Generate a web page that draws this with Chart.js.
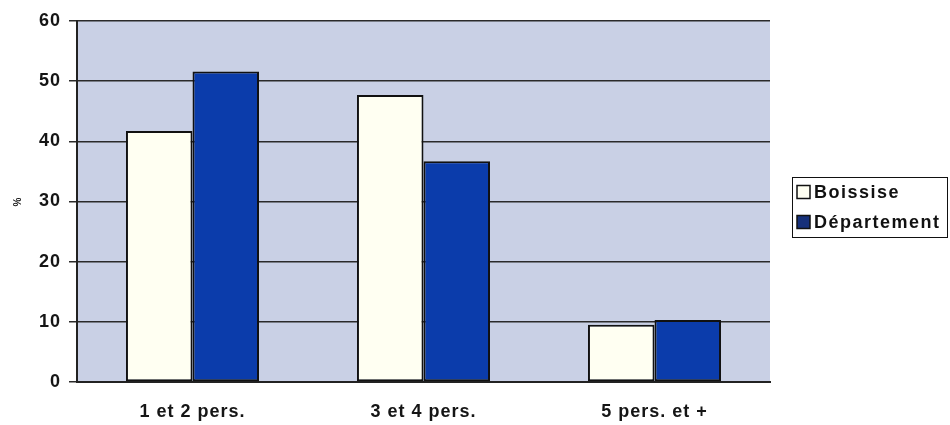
<!DOCTYPE html>
<html>
<head>
<meta charset="utf-8">
<script src="https://cdn.jsdelivr.net/npm/chart.js@4/dist/chart.umd.min.js"></script>
<style>
  html, body { margin: 0; padding: 0; background: #ffffff; }
  #wrap { width: 950px; height: 425px; }
</style>
</head>
<body>
<div id="wrap"><canvas id="c" width="950" height="425"></canvas></div>
<script>
// Household size distribution (%)
const categories = ['1 et 2 pers.', '3 et 4 pers.', '5 pers. et +'];
const boissise = [41.7, 47.7, 9.5];
const departement = [51.6, 36.7, 10.3];
const seriesNames = ['Boissise', 'Département'];
const yTicks = [0, 10, 20, 30, 40, 50, 60];

const FONT = '"Liberation Sans", Arial, sans-serif';

// Slightly spaced-out lettering for all chart text
const textSpacing = {
  id: 'textSpacing',
  beforeUpdate(chart) { chart.ctx.letterSpacing = '1px'; },
  beforeDraw(chart) { chart.ctx.letterSpacing = '1px'; }
};

// Plot background fill
const plotBackground = {
  id: 'plotBackground',
  beforeDraw(chart) {
    const { ctx, chartArea: a } = chart;
    ctx.save();
    ctx.fillStyle = '#c9d0e5';
    ctx.fillRect(a.left, a.top, a.right - a.left, a.bottom - a.top);
    ctx.restore();
  }
};

// Boxed legend on the right
const boxedLegend = {
  id: 'boxedLegend',
  afterDraw(chart) {
    const { ctx } = chart;
    const x0 = 792, y0 = 177, w = 156, h = 61;
    ctx.save();
    ctx.fillStyle = '#ffffff';
    ctx.fillRect(x0, y0, w, h);
    ctx.strokeStyle = '#111111';
    ctx.lineWidth = 1;
    ctx.strokeRect(x0 + 0.5, y0 + 0.5, w - 1, h - 1);
    ctx.letterSpacing = '1.5px';
    ctx.font = 'bold 18px ' + FONT;
    ctx.textBaseline = 'middle';
    chart.data.datasets.forEach((ds, i) => {
      const cy = y0 + 15 + i * 30;
      const mx = x0 + 5, ms = 13;
      ctx.fillStyle = i === 0 ? ds.backgroundColor : '#16307a';
      ctx.fillRect(mx, cy - ms / 2, ms, ms);
      ctx.strokeStyle = '#111111';
      ctx.lineWidth = 1.5;
      ctx.strokeRect(mx, cy - ms / 2, ms, ms);
      ctx.fillStyle = '#111111';
      ctx.fillText(ds.label, x0 + 22, cy + 1);
    });
    ctx.restore();
  }
};

new Chart(document.getElementById('c'), {
  type: 'bar',
  data: {
    labels: categories,
    datasets: [
      {
        label: seriesNames[0],
        data: boissise,
        backgroundColor: '#fffff2',
        borderColor: '#111111',
        borderWidth: 2,
        borderSkipped: false
      },
      {
        label: seriesNames[1],
        data: departement,
        backgroundColor: '#0b3cab',
        borderColor: '#111111',
        borderWidth: 2,
        borderSkipped: false
      }
    ]
  },
  options: {
    responsive: false,
    animation: false,
    devicePixelRatio: 1,
    layout: { padding: { top: 21, right: 180, bottom: 0, left: 0 } },
    datasets: { bar: { categoryPercentage: 0.576, barPercentage: 1.0 } },
    plugins: {
      legend: { display: false },
      tooltip: { enabled: false }
    },
    scales: {
      x: {
        grid: { display: false, drawTicks: false },
        border: { display: true, color: '#222222', width: 2 },
        ticks: {
          color: '#151515',
          font: { family: FONT, size: 18, weight: 'bold' },
          padding: 19
        },
        afterFit(s) { s.height = 43; }
      },
      y: {
        min: 0,
        max: 60,
        afterBuildTicks(s) { s.ticks = yTicks.map(v => ({ value: v })); },
        grid: {
          color: '#2a2a2a',
          lineWidth: 1.5,
          tickLength: 8,
          tickColor: '#2a2a2a'
        },
        border: { display: true, color: '#222222', width: 2 },
        ticks: {
          color: '#151515',
          font: { family: FONT, size: 18, weight: 'bold' },
          padding: 8
        },
        title: {
          display: true,
          text: '%',
          color: '#151515',
          font: { family: FONT, size: 10, weight: 'bold' },
          padding: { top: 12, bottom: 0 }
        },
        afterFit(s) { s.width = 77; }
      }
    }
  },
  plugins: [textSpacing, plotBackground, boxedLegend]
});
</script>
</body>
</html>
